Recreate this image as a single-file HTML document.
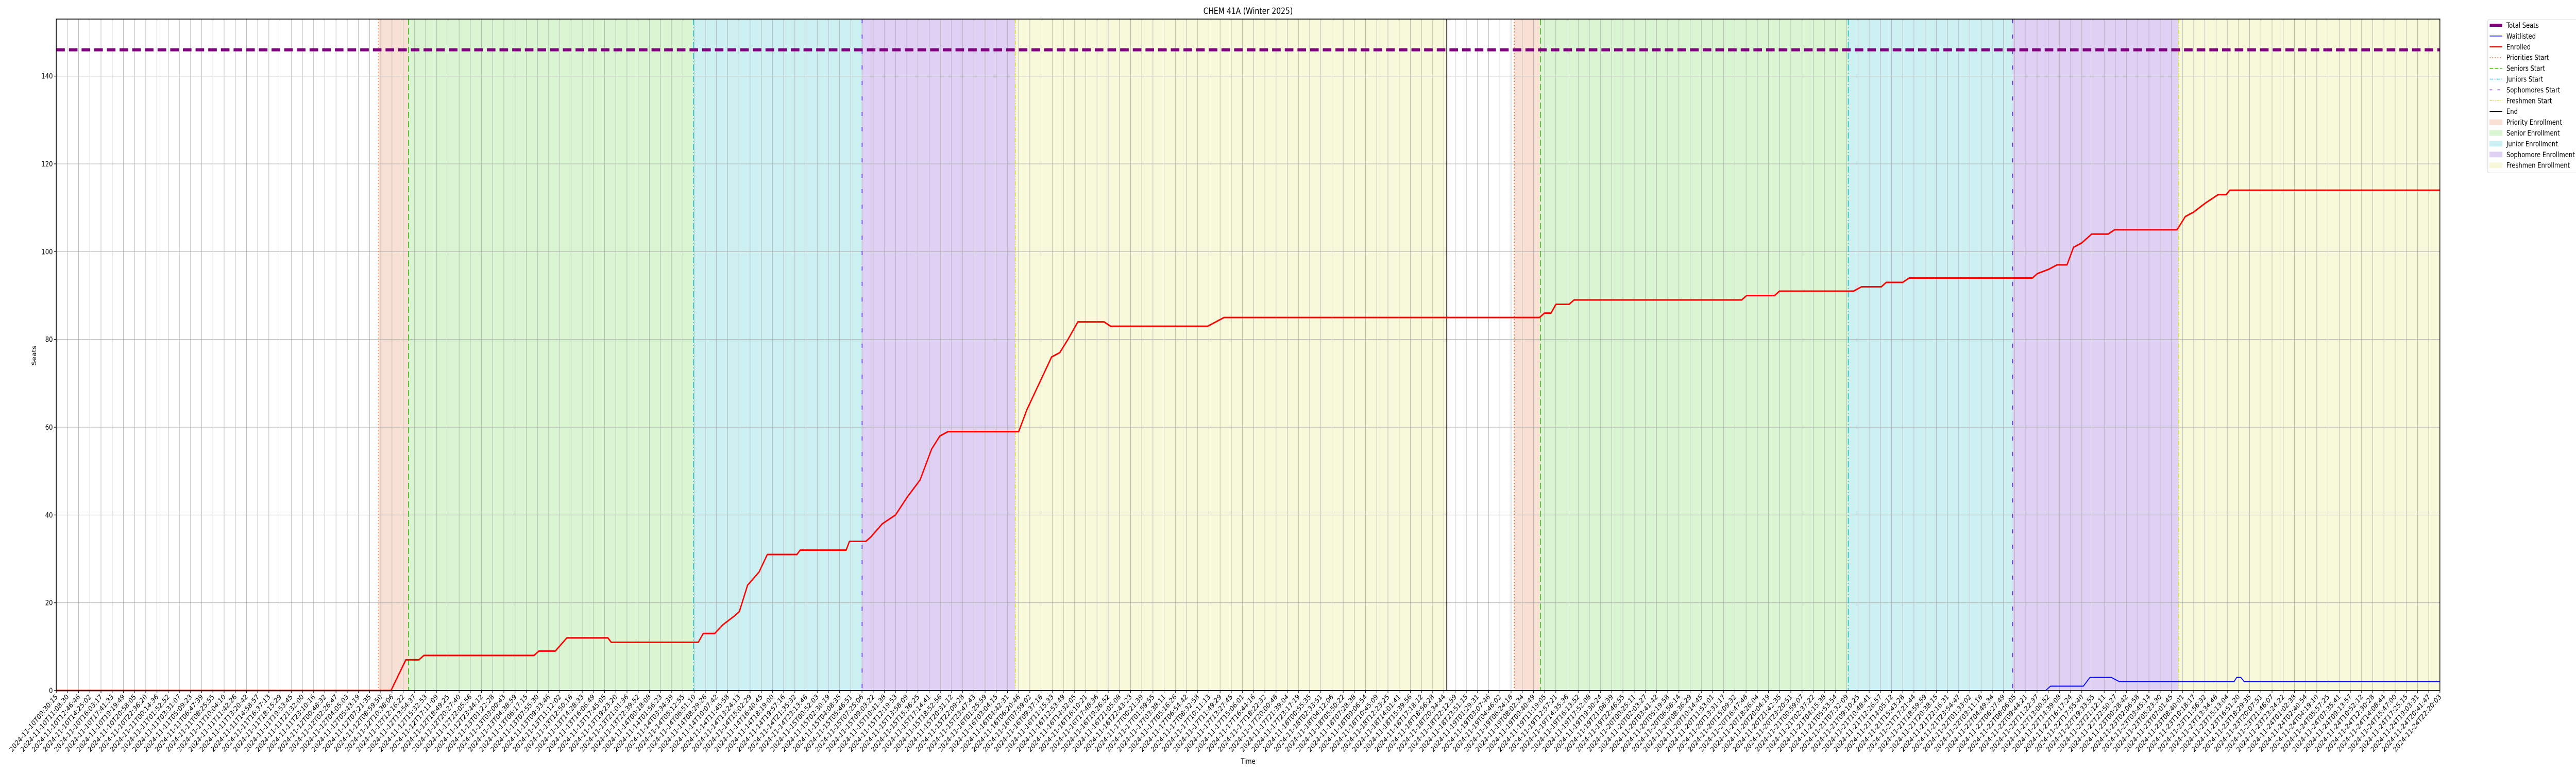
<!DOCTYPE html>
<html><head><meta charset="utf-8"><meta name="viewport" content="width=6000,initial-scale=1"><style>
html,body{margin:0;padding:0;background:#fff;width:100vw;height:100vh;overflow:hidden;}
svg{display:block;width:100vw;height:100vh;font-family:"DejaVu Sans","Liberation Sans",sans-serif;}
</style></head><body>
<svg id="chart" viewBox="0 0 6000 1500" preserveAspectRatio="none" xmlns="http://www.w3.org/2000/svg">
<text x="2907" y="27" font-size="16.7" text-anchor="middle">CHEM 41A (Winter 2025)</text>
<text x="0" y="0" font-size="13.9" text-anchor="middle" transform="translate(84,690) rotate(-90)">Seats</text>
<text x="2907" y="1482" font-size="13.9" text-anchor="middle">Time</text>
<g id="regions"></g>
<g id="grid"></g>
<g id="vlines"></g>
<g id="series"></g>
<rect x="131" y="37" width="5552" height="1303" fill="none" stroke="#000" stroke-width="1.6"/>
<g id="yticks"></g>
<g id="xticks"></g>
<g id="legend"></g>
</svg>
<script>
// ---- data (hours since 2024-11-10T09:30:15) ----
const startTime = "2024-11-10T09:30:15";
const totalHours = 348.83;
const totalSeats = 146;
const yTickValues = [0, 20, 40, 60, 80, 100, 120, 140];
const xTickCount = 214;
const enrolledHours = [0,48.99,51.16,53.08,53.80,69.92,70.64,73.04,74.72,80.73,81.22,93.96,94.68,96.36,97.57,99.25,99.97,101.17,102.85,104.06,108.39,108.87,115.60,116.08,118.49,119.21,120.89,122.82,124.50,126.42,128.10,129.31,130.51,140.85,142.05,143.25,144.46,145.66,146.86,148.06,149.50,153.35,154.31,168.50,169.70,170.90,217.07,217.79,218.75,219.47,221.39,222.12,246.65,247.37,251.46,252.18,263.00,264.20,267.09,267.81,270.21,271.17,289.20,289.93,291.61,292.81,294.26,295.22,296.42,297.86,300.27,301.23,310.37,311.57,312.77,314.45,316.38,317.58,318.06,348.83];
const enrolledValues = [0,0,7,7,8,8,9,9,12,12,11,11,13,13,15,17,18,24,27,31,31,32,32,34,34,35,38,40,44,48,55,58,59,59,64,68,72,76,77,80,84,84,83,83,84,85,85,86,86,88,88,89,89,90,90,91,91,92,92,93,93,94,94,95,96,97,97,101,102,104,104,105,105,108,109,111,113,113,114,114];
const waitlistHours = [0,291.13,291.85,296.66,297.62,300.75,301.95,318.70,319.10,319.70,320.20,348.83];
const waitlistValues = [0,0,1,1,3,3,2,2,3,3,2,2];
const phaseNames = ["priority","senior","junior","sophomore","freshmen"];
const phaseStarts1 = [47.19, 51.55, 93.24, 117.93, 140.36];
const phaseStarts2 = [213.37, 217.20, 262.25, 286.30, 310.60];
const endHour = 203.5;

// ---- axes ----
const X0=131, X1=5683, Y0=1340, Y1=37, YMAX=153;
const xs = h => X0 + (h/totalHours)*(X1-X0);
const ys = v => Y0 - (v/YMAX)*(Y0-Y1);
const NS="http://www.w3.org/2000/svg";
function mk(tag, attrs, parent){const e=document.createElementNS(NS,tag);for(const k in attrs)e.setAttribute(k,attrs[k]);parent.appendChild(e);return e;}
const fills={priority:"#f8e0d5",senior:"#d9f5d2",junior:"#cdf1f3",sophomore:"#dfd1f4",freshmen:"#f8f8da"};
const lineStyles={
 priority:{c:"#ff6d2e",d:"2,4",w:2},
 senior:{c:"#3ec41c",d:"12,6",w:2},
 junior:{c:"#1ec8cc",d:"12,4,2,4",w:2},
 sophomore:{c:"#6a2be2",d:"8,22",w:2},
 freshmen:{c:"#e0e030",d:"8,3,2,3,2,3",w:2}
};
const regions=document.getElementById('regions');
function drawPhases(starts, stop){
  for(let i=0;i<starts.length;i++){
    const a=starts[i], b=(i+1<starts.length)?starts[i+1]:stop;
    const r=mk('rect',{x:xs(a),y:Y1,width:xs(b)-xs(a),height:Y0-Y1,fill:fills[phaseNames[i]]},regions);
    
    
  }
}
drawPhases(phaseStarts1, endHour);
drawPhases(phaseStarts2, totalHours);

const grid=document.getElementById('grid');
const xt=document.getElementById('xticks');
const t0=new Date(startTime+"Z").getTime();
function fmt(ms){const d=new Date(ms);const p=n=>String(n).padStart(2,'0');return d.getUTCFullYear()+"-"+p(d.getUTCMonth()+1)+"-"+p(d.getUTCDate())+"T"+p(d.getUTCHours())+":"+p(d.getUTCMinutes())+":"+p(d.getUTCSeconds());}
for(let i=0;i<xTickCount;i++){
  const h=totalHours*i/(xTickCount-1); const x=xs(h);
  const g=mk('line',{x1:x,x2:x,y1:Y1,y2:Y0,stroke:"#b0b0b0","stroke-width":1},grid);
  
  
  const tk=mk('line',{x1:x,x2:x,y1:Y0,y2:Y0+5,stroke:"#000","stroke-width":1.2},xt);
  
  
  const t=mk('text',{x:0,y:0,"font-size":13.9,"text-anchor":"end",transform:`translate(${x+4},${Y0+13}) rotate(-45)`},xt);
  t.textContent=fmt(t0+h*3600000);
  
  
}
const yt=document.getElementById('yticks');
yTickValues.forEach(v=>{
  const y=ys(v);
  const g=mk('line',{x1:X0,x2:X1,y1:y,y2:y,stroke:"#b0b0b0","stroke-width":1},grid);
  
  
  const tk=mk('line',{x1:X0-5,x2:X0,y1:y,y2:y,stroke:"#000","stroke-width":1.2},yt);
  
  
  const t=mk('text',{x:X0-8,y:y+5,"font-size":13.9,"text-anchor":"end"},yt);
  t.textContent=v;
  
  
});

const vl=document.getElementById('vlines');
function drawVLines(starts){
  starts.forEach((h,i)=>{const s=lineStyles[phaseNames[i]];
    const l=mk('line',{x1:xs(h),x2:xs(h),y1:Y1,y2:Y0,stroke:s.c,"stroke-width":s.w,"stroke-dasharray":s.d},vl);
    
    
  });
}
drawVLines(phaseStarts1); drawVLines(phaseStarts2);
const el=mk('line',{x1:xs(endHour),x2:xs(endHour),y1:Y1,y2:Y0,stroke:"#000","stroke-width":2},vl);



const se=document.getElementById('series');
const ts=mk('line',{x1:X0,x2:X1,y1:ys(totalSeats),y2:ys(totalSeats),stroke:"#800080","stroke-width":6,"stroke-dasharray":"20,9.5"},se);


const wl=mk('polyline',{points:waitlistHours.map((h,i)=>xs(h)+","+ys(waitlistValues[i])).join(" "),fill:"none",stroke:"#0000ff","stroke-width":2},se);


const en=mk('polyline',{points:enrolledHours.map((h,i)=>xs(h)+","+ys(enrolledValues[i])).join(" "),fill:"none",stroke:"#ff0000","stroke-width":3,"stroke-linejoin":"round"},se);



// ---- legend ----
const lg=document.getElementById('legend');
const lb=mk('rect',{x:5794.5,y:38.5,width:220,height:297,rx:3,fill:"#fff",stroke:"#d0d0d0","stroke-width":1},lg);


const entries=[
 ["Total Seats","line","#800080",6,""],
 ["Waitlisted","line","#0000ff",1.5,""],
 ["Enrolled","line","#ff0000",2.5,""],
 ["Priorities Start","line",lineStyles.priority.c,1.5,"2,4"],
 ["Seniors Start","line",lineStyles.senior.c,1.5,"8,4"],
 ["Juniors Start","line",lineStyles.junior.c,1.5,"8,3,2,3"],
 ["Sophomores Start","line",lineStyles.sophomore.c,1.5,"6,12"],
 ["Freshmen Start","line",lineStyles.freshmen.c,1.5,"6,2,2,2,2,2"],
 ["End","line","#000",1.8,""],
 ["Priority Enrollment","box","#f8e0d5"],
 ["Senior Enrollment","box","#d9f5d2"],
 ["Junior Enrollment","box","#cdf1f3"],
 ["Sophomore Enrollment","box","#dfd1f4"],
 ["Freshmen Enrollment","box","#f8f8da"]
];
entries.forEach((e,i)=>{
  const y=49+i*20.9;
  let h;
  if(e[1]==="line"){h=mk('line',{x1:5799,x2:5828,y1:y,y2:y,stroke:e[2],"stroke-width":e[3],"stroke-dasharray":e[4]},lg);}
  else{h=mk('rect',{x:5799,y:y-5,width:29,height:10,fill:e[2],stroke:e[2]},lg);}
  
  
  const t=mk('text',{x:5838,y:y+5,"font-size":13.9},lg);
  t.textContent=e[0];
  
  
});
</script>
</body></html>
